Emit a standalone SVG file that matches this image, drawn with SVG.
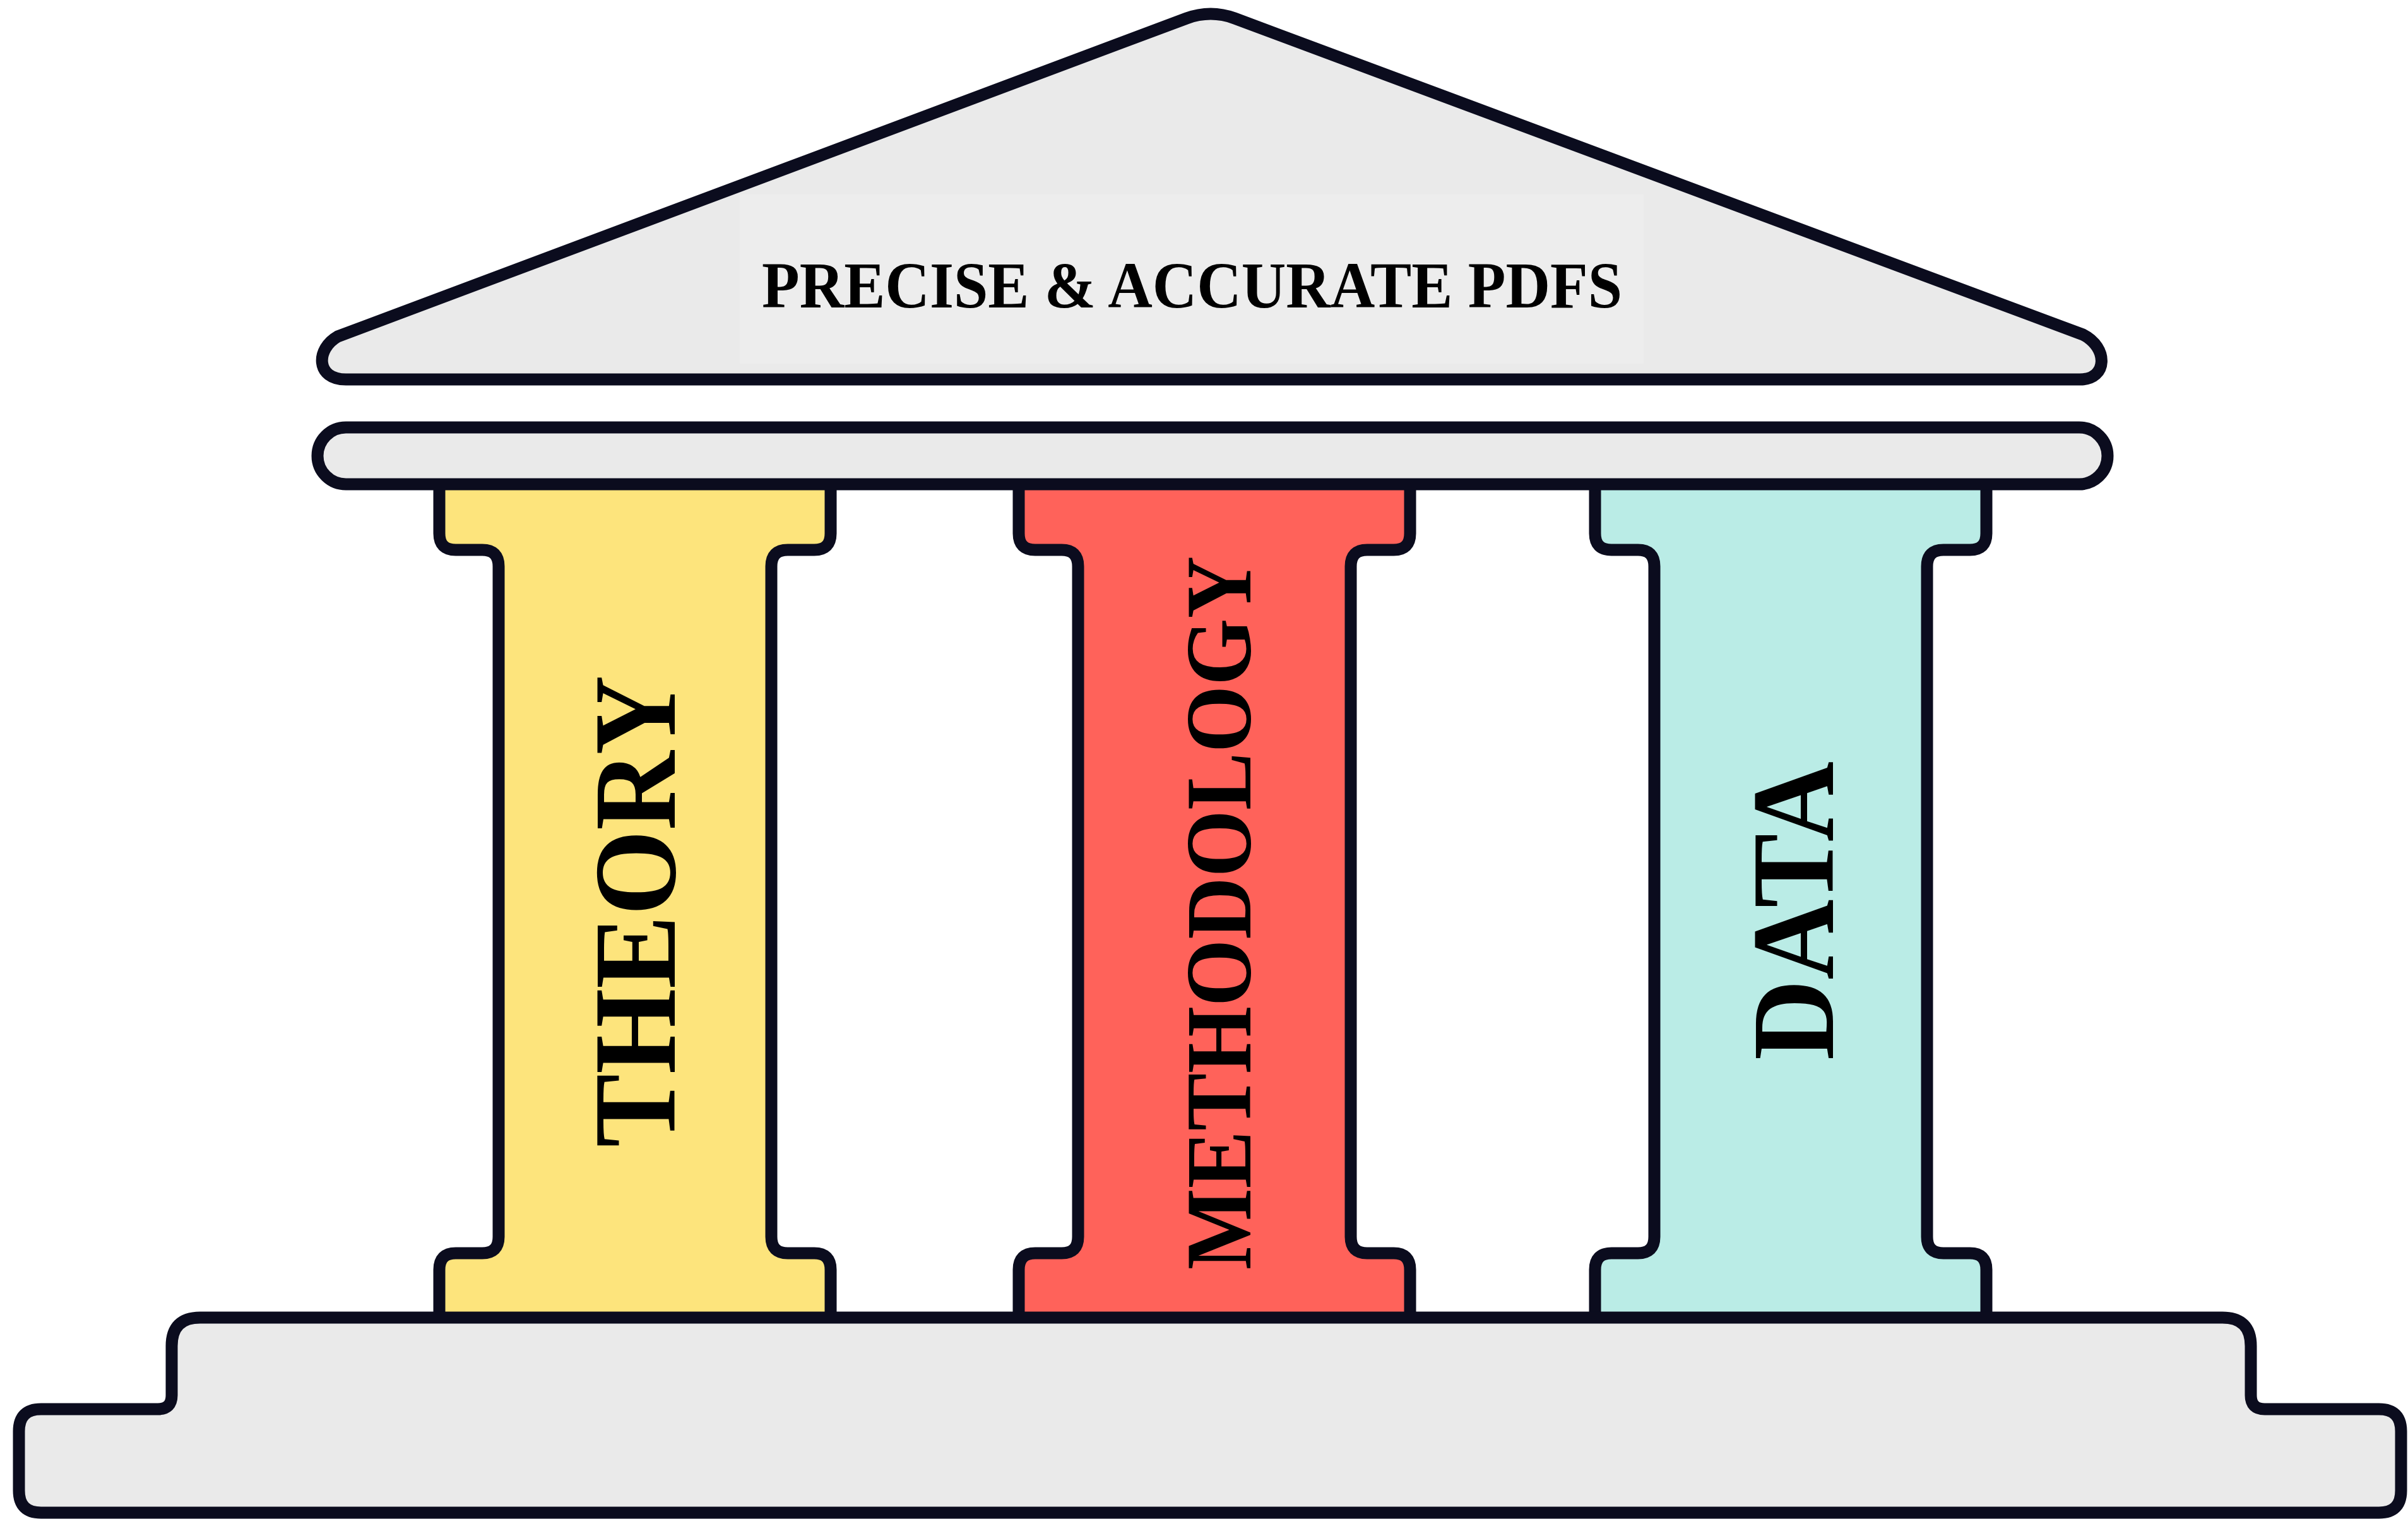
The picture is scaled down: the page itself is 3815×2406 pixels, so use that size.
<svg xmlns="http://www.w3.org/2000/svg" xmlns:xlink="http://www.w3.org/1999/xlink" width="3815" height="2406" viewBox="0 0 3815 2406">
  <style>
    .outline { stroke: #0b0c1e; stroke-width: 19; stroke-linejoin: round; }
    .stone { fill: #eaeaea; }
    .yellow { fill: #fde47c; }
    .red { fill: #ff625a; }
    .teal { fill: #baece6; }
    .label { font-family: "Liberation Serif", "Times New Roman", serif; font-weight: bold; fill: #000000; }
  </style>
  <defs>
    <path id="column" d="M -310,760 L -310,845 Q -310,871 -284,871 L -242,871 Q -216,871 -216,897 L -216,1959 Q -216,1985 -242,1985 L -284,1985 Q -310,1985 -310,2011 L -310,2095 L 310,2095 L 310,2011 Q 310,1985 284,1985 L 242,1985 Q 216,1985 216,1959 L 216,897 Q 216,871 242,871 L 284,871 Q 310,871 310,845 L 310,760 Z"/>
  </defs>
  <rect width="3815" height="2406" fill="#ffffff"/>

  <g id="column-theory">
    <use href="#column" xlink:href="#column" x="1006" class="outline yellow"/>
  </g>
  <g id="column-methodology">
    <use href="#column" xlink:href="#column" x="1924" class="outline red"/>
  </g>
  <g id="column-data">
    <use href="#column" xlink:href="#column" x="2837" class="outline teal"/>
  </g>

  <g id="entablature">
    <rect x="503" y="677" width="2836" height="90" rx="45" ry="45" class="outline stone"/>
  </g>

  <g id="base">
    <path class="outline stone" d="M 65,2232 L 250,2232 Q 272,2232 272,2210 L 272,2132 Q 272,2087 317,2087 L 3521,2087 Q 3566,2087 3566,2132 L 3566,2210 Q 3566,2232 3588,2232 L 3769,2232 Q 3804,2232 3804,2267 L 3804,2361 Q 3804,2396 3769,2396 L 65,2396 Q 30,2396 30,2361 L 30,2267 Q 30,2232 65,2232 Z"/>
  </g>

  <g id="pediment">
    <path class="outline stone" d="M 1880,29 Q 1918,15 1956,29 L 3300,530 C 3340,550 3340,601 3295,601 L 548,601 C 500,601 500,553 535,533 Z"/>
    <rect x="1172" y="308" width="1432" height="268" fill="#ededed"/>
    <text class="label" x="1207" y="487" font-size="104" textLength="1363" lengthAdjust="spacingAndGlyphs">PRECISE &amp; ACCURATE PDFS</text>
  </g>

  <g id="label-theory">
    <text class="label" transform="translate(1069,1817) rotate(-90)" x="0" y="0" font-size="186" textLength="747" lengthAdjust="spacingAndGlyphs">THEORY</text>
  </g>
  <g id="label-methodology">
    <text class="label" transform="translate(1981,2011) rotate(-90)" x="0" y="0" font-size="148" textLength="1130" lengthAdjust="spacingAndGlyphs">METHODOLOGY</text>
  </g>
  <g id="label-data">
    <text class="label" transform="translate(2904,1679) rotate(-90)" x="0" y="0" font-size="186" textLength="473" lengthAdjust="spacingAndGlyphs">DATA</text>
  </g>
</svg>
